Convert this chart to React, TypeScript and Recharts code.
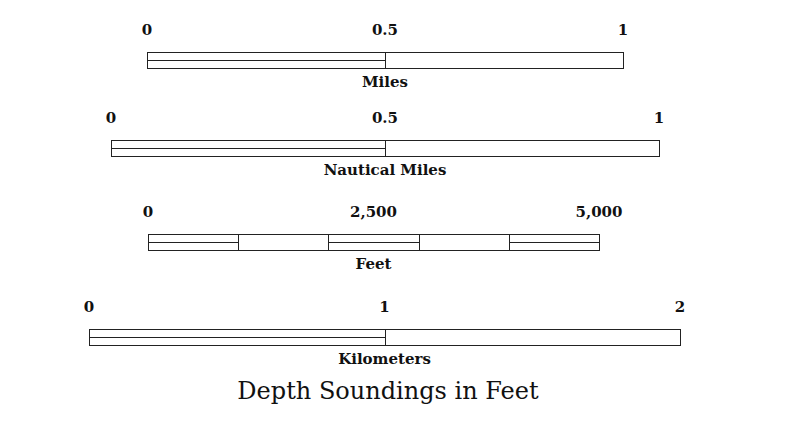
import { BarChart, Bar, XAxis, YAxis } from "recharts";

// scale definitions: segment lengths + tick labels in each unit
const scaleNames = ["Miles", "Nautical Miles", "Feet", "Kilometers"];
const milesSegments = [0.5, 0.5];
const milesTicks = [0, 0.5, 1];
const nauticalSegments = [0.5, 0.5];
const nauticalTicks = [0, 0.5, 1];
const feetSegments = [1000, 1000, 1000, 1000, 1000];
const feetTicks = [0, 2500, 5000];
const kmSegments = [1, 1];
const kmTicks = [0, 1, 2];

const TITLE = "Depth Soundings in Feet";

// layout (pixels)
const W = 805;
const TOP_AXIS = 40;
const BAR_H = 16;
const BOTTOM_AXIS = 30;
const barLeft = [147, 111, 148, 89];
const barRight = [623, 659, 599, 680];
const barTop = [52, 140, 234, 329];

const FONT = "Georgia, 'DejaVu Serif', serif";

const fmt = (v: number) => v.toLocaleString("en-US");

function segShape(mid: boolean) {
  return (p: any) => {
    const x0 = Math.round(p.x);
    const x1 = Math.round(p.x + p.width);
    const y0 = Math.round(p.y);
    const h = Math.round(p.height);
    const x = x0 + 0.5;
    const y = y0 + 0.5;
    const w = x1 - x0;
    const my = y + Math.round(h / 2);
    return (
      <g>
        <rect x={x} y={y} width={w} height={h} fill="#fff" stroke="#222" strokeWidth={1} />
        {mid && <line x1={x} x2={x + w} y1={my} y2={my} stroke="#222" strokeWidth={1} />}
      </g>
    );
  };
}

function ScaleBar({ idx, segments, ticks }: { idx: number; segments: number[]; ticks: number[] }) {
  const total = segments.reduce((a, b) => a + b, 0);
  const row: Record<string, any> = { name: scaleNames[idx] };
  segments.forEach((s, i) => (row["s" + i] = s));
  return (
    <div style={{ position: "absolute", left: 0, top: barTop[idx] - TOP_AXIS }}>
      <BarChart
        width={W}
        height={TOP_AXIS + BAR_H + BOTTOM_AXIS}
        data={[row]}
        layout="vertical"
        margin={{ top: 0, bottom: 0, left: barLeft[idx], right: W - barRight[idx] }}
        barCategoryGap={0}
      >
        <XAxis
          xAxisId="t"
          type="number"
          orientation="top"
          domain={[0, total]}
          ticks={ticks}
          tickFormatter={fmt}
          height={TOP_AXIS}
          axisLine={false}
          tickLine={false}
          tickSize={0}
          tickMargin={17}
          interval={0}
          tick={{ fill: "#111", fontSize: 15, fontWeight: 700, fontFamily: FONT }}
        />
        <XAxis
          xAxisId="b"
          type="number"
          orientation="bottom"
          domain={[0, total]}
          height={BOTTOM_AXIS}
          axisLine={false}
          tickLine={false}
          tick={false}
          label={{
            value: scaleNames[idx],
            position: "insideTop",
            offset: 8,
            fill: "#111",
            fontSize: 15,
            fontWeight: 700,
            fontFamily: FONT,
          }}
        />
        <YAxis type="category" dataKey="name" hide width={0} />
        {segments.map((_, i) => (
          <Bar
            key={i}
            xAxisId="t"
            dataKey={"s" + i}
            stackId="a"
            isAnimationActive={false}
            shape={segShape(i % 2 === 0)}
          />
        ))}
      </BarChart>
    </div>
  );
}

export default function App() {
  return (
    <div style={{ position: "absolute", left: 0, top: 0, width: W, height: 438, background: "#fff" }}>
      <ScaleBar idx={0} segments={milesSegments} ticks={milesTicks} />
      <ScaleBar idx={1} segments={nauticalSegments} ticks={nauticalTicks} />
      <ScaleBar idx={2} segments={feetSegments} ticks={feetTicks} />
      <ScaleBar idx={3} segments={kmSegments} ticks={kmTicks} />
      <div
        style={{
          position: "absolute",
          left: 0,
          width: 776,
          top: 377,
          textAlign: "center",
          fontFamily: FONT,
          fontSize: 24,
          lineHeight: "29px",
          color: "#111",
        }}
      >
        {TITLE}
      </div>
    </div>
  );
}
